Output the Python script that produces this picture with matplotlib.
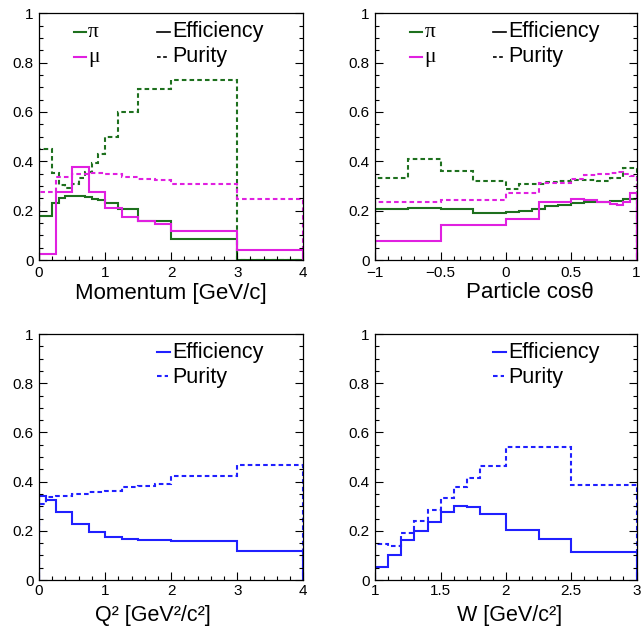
import matplotlib
matplotlib.use("Agg")
import matplotlib.pyplot as plt
from matplotlib.lines import Line2D
from matplotlib.ticker import MultipleLocator

plt.rcParams["font.family"] = ["Liberation Sans", "DejaVu Sans"]

W_PX, H_PX, DPI = 641, 627, 100

GREEN = "#1e701e"
PINK = "#e020e0"
BLUE = "#2020ff"
DASH = (0, (2.2, 1.5))

# ---- Momentum (pion / muon) ----
p_edges_pi = [0, 0.2, 0.3, 0.4, 0.5, 0.6, 0.7, 0.8, 0.9, 1.0, 1.2, 1.5, 2.0, 3.0, 4.0]
p_eff_pi = [0.18, 0.23, 0.252, 0.258, 0.261, 0.259, 0.257, 0.249, 0.243, 0.23, 0.207, 0.157, 0.087, 0.0]
p_pur_pi = [0.449, 0.351, 0.304, 0.293, 0.307, 0.331, 0.358, 0.392, 0.428, 0.497, 0.601, 0.693, 0.73, 0.0]

p_edges_mu = [0, 0.25, 0.5, 0.75, 1.0, 1.25, 1.5, 1.75, 2.0, 3.0, 4.0]
p_eff_mu = [0.025, 0.274, 0.379, 0.277, 0.21, 0.175, 0.159, 0.146, 0.118, 0.042]
p_pur_mu = [0.274, 0.338, 0.35, 0.354, 0.348, 0.335, 0.328, 0.324, 0.307, 0.247]

# ---- cos(theta) (pion / muon) ----
c_edges_pi = [-1, -0.75, -0.5, -0.25, 0, 0.1, 0.2, 0.3, 0.4, 0.5, 0.6, 0.7, 0.8, 0.9, 1.0]
c_eff_pi = [0.206, 0.212, 0.206, 0.192, 0.194, 0.197, 0.208, 0.219, 0.223, 0.23, 0.234, 0.235, 0.24, 0.246]
c_pur_pi = [0.331, 0.41, 0.361, 0.321, 0.289, 0.309, 0.308, 0.315, 0.321, 0.324, 0.323, 0.319, 0.332, 0.374]

c_edges_mu = [-1, -0.5, 0, 0.25, 0.5, 0.6, 0.7, 0.8, 0.85, 0.9, 0.95, 1.0]
c_eff_mu = [0.078, 0.141, 0.166, 0.234, 0.248, 0.243, 0.236, 0.228, 0.223, 0.236, 0.27]
c_pur_mu = [0.236, 0.243, 0.273, 0.313, 0.328, 0.346, 0.349, 0.353, 0.357, 0.35, 0.34]

# ---- Q^2 ----
q2_edges = [0, 0.1, 0.25, 0.5, 0.75, 1.0, 1.25, 1.5, 1.75, 2.0, 3.0, 4.0]
q2_eff = [0.343, 0.325, 0.276, 0.229, 0.196, 0.176, 0.165, 0.162, 0.161, 0.159, 0.118]
q2_pur = [0.308, 0.339, 0.343, 0.35, 0.356, 0.361, 0.378, 0.384, 0.392, 0.423, 0.469]

# ---- W ----
w_edges = [1.0, 1.1, 1.2, 1.3, 1.4, 1.5, 1.6, 1.7, 1.8, 2.0, 2.25, 2.5, 3.0]
w_eff = [0.054, 0.102, 0.162, 0.2, 0.235, 0.276, 0.299, 0.296, 0.268, 0.202, 0.166, 0.115]
w_pur = [0.147, 0.138, 0.19, 0.241, 0.286, 0.332, 0.378, 0.414, 0.465, 0.539, 0.542, 0.385]

y_ticks = [0, 0.2, 0.4, 0.6, 0.8, 1.0]
y_labels = ["0", "0.2", "0.4", "0.6", "0.8", "1"]
p_ticks, p_labels = [0, 1, 2, 3, 4], ["0", "1", "2", "3", "4"]
c_ticks, c_labels = [-1, -0.5, 0, 0.5, 1], ["\u22121", "\u22120.5", "0", "0.5", "1"]
w_ticks, w_labels = [1, 1.5, 2, 2.5, 3], ["1", "1.5", "2", "2.5", "3"]

fig = plt.figure(figsize=(W_PX / DPI, H_PX / DPI), dpi=DPI)


def fx(x):
    return x / W_PX


def fy(y):
    return 1 - y / H_PX


def make_axes(left, top, right, bottom):
    return fig.add_axes([fx(left), fy(bottom), (right - left) / W_PX, (bottom - top) / H_PX])


def style(ax, xlim, xticks, xlabels, xminor, xpad):
    ax.set_xlim(*xlim)
    ax.set_ylim(0, 1)
    ax.set_xticks(xticks)
    ax.set_xticklabels(xlabels)
    ax.set_yticks(y_ticks)
    ax.set_yticklabels(y_labels)
    ax.xaxis.set_minor_locator(MultipleLocator(xminor))
    ax.yaxis.set_minor_locator(MultipleLocator(0.05))
    ax.tick_params(which="both", direction="in", right=True, top=False,
                   width=0.8, labelsize=11, pad=4)
    ax.tick_params(axis="x", which="major", pad=xpad)
    ax.tick_params(which="major", length=5.5)
    ax.tick_params(which="minor", length=2.8)
    for s in ax.spines.values():
        s.set_linewidth(0.9)


def hist(ax, edges, vals, color, dashed=False):
    ax.stairs(vals, edges, baseline=0, fill=False, color=color, lw=1.5,
              linestyle=DASH if dashed else "-")


ax1 = make_axes(39, 13.3, 303.3, 260)
ax2 = make_axes(375.3, 13.3, 636.5, 260)
ax3 = make_axes(39, 334, 303.3, 580)
ax4 = make_axes(375.3, 334, 636.5, 580)

style(ax1, (0, 4), p_ticks, p_labels, 0.2, 4.5)
style(ax2, (-1, 1), c_ticks, c_labels, 0.1, 4.5)
style(ax3, (0, 4), p_ticks, p_labels, 0.2, 3)
style(ax4, (1, 3), w_ticks, w_labels, 0.1, 3)

hist(ax1, p_edges_pi, p_pur_pi, GREEN, True)
hist(ax1, p_edges_mu, p_pur_mu, PINK, True)
hist(ax1, p_edges_pi, p_eff_pi, GREEN)
hist(ax1, p_edges_mu, p_eff_mu, PINK)

hist(ax2, c_edges_pi, c_pur_pi, GREEN, True)
hist(ax2, c_edges_mu, c_pur_mu, PINK, True)
hist(ax2, c_edges_pi, c_eff_pi, GREEN)
hist(ax2, c_edges_mu, c_eff_mu, PINK)

hist(ax3, q2_edges, q2_pur, BLUE, True)
hist(ax3, q2_edges, q2_eff, BLUE)

hist(ax4, w_edges, w_pur, BLUE, True)
hist(ax4, w_edges, w_eff, BLUE)


def key_line(x0, x1, y, color, dashed=False, lw=1.5):
    fig.add_artist(Line2D([fx(x0), fx(x1)], [fy(y), fy(y)], transform=fig.transFigure,
                          color=color, lw=lw, linestyle=DASH if dashed else "-"))


def key_text(x, y, s, serif=False):
    fig.text(fx(x), fy(y), s, fontsize=15.5, va="baseline", ha="left",
             family=["Liberation Serif", "DejaVu Serif"] if serif else None)


# legends of the top row: particle colours and line styles
for dx in (0, 336.3):
    key_line(74 + dx, 86 + dx, 32, GREEN)
    key_text(88 + dx, 36.7, "\u03c0", serif=True)
    key_line(74 + dx, 86 + dx, 57, PINK)
    key_text(88 + dx, 62, "\u03bc", serif=True)
    key_line(157 + dx, 170 + dx, 32, "black", lw=1.2)
    key_text(172 + dx, 36.7, "Efficiency")
    key_line(157 + dx, 168 + dx, 57, "black", dashed=True, lw=1.2)
    key_text(172 + dx, 61.7, "Purity")

# legends of the bottom row
for dx in (0, 336.3):
    key_line(157 + dx, 170 + dx, 351.7, BLUE)
    key_text(172 + dx, 358.3, "Efficiency")
    key_line(157 + dx, 168 + dx, 375.7, BLUE, dashed=True)
    key_text(172 + dx, 382.7, "Purity")

# axis titles
fig.text(fx(171), fy(298.5), "Momentum [GeV/c]", fontsize=16, ha="center", va="baseline")
fig.text(fx(530), fy(298.5), "Particle cos\u03b8", fontsize=16, ha="center", va="baseline")
fig.text(fx(153), fy(621.5), "Q\u00b2 [GeV\u00b2/c\u00b2]", fontsize=15.5, ha="center", va="baseline")
fig.text(fx(510), fy(621.5), "W [GeV/c\u00b2]", fontsize=15.5, ha="center", va="baseline")

fig.savefig("out.png", dpi=DPI)
